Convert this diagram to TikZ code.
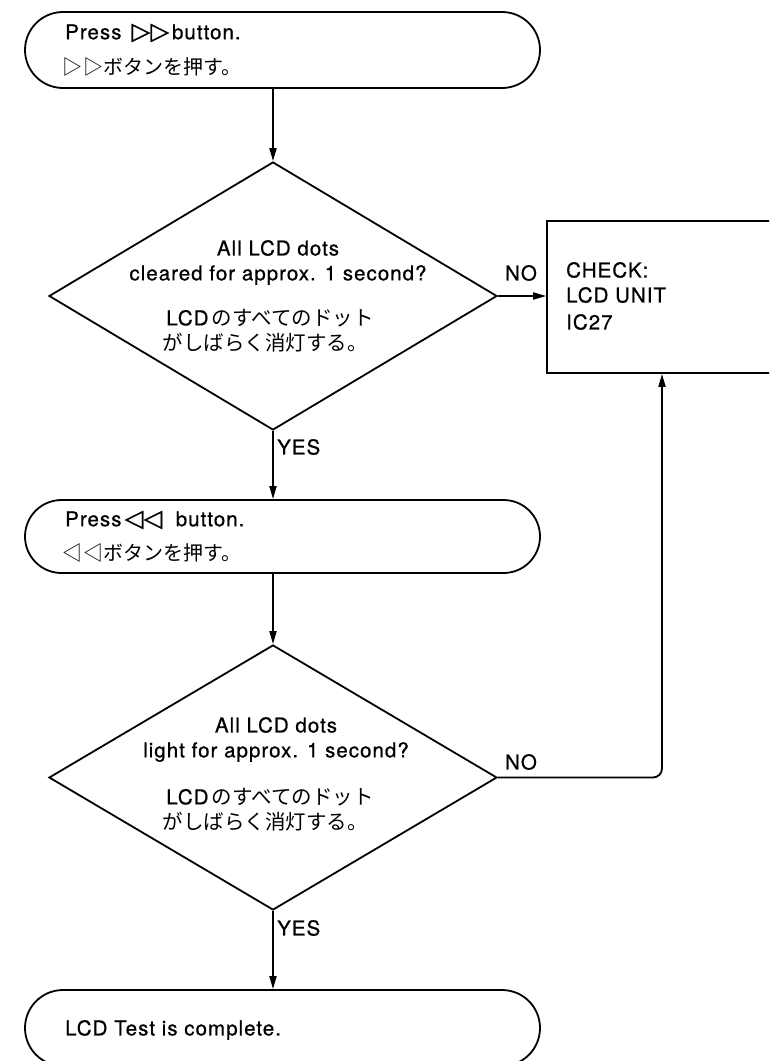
\documentclass[tikz,border=0pt]{standalone}
\usepackage{fontspec}
\setmainfont{TeX Gyre Heros}[LetterSpace=5, FakeBold=0.7]
\newfontfamily\jpfont{Noto Sans CJK JP}
\newfontfamily\symfont{DejaVu Sans}[FakeBold=1.2]
\usetikzlibrary{shapes.geometric,shapes.misc,arrows.meta}
\newcommand{\rtri}{{\symfont\fontsize{24}{24}\selectfont ▷}}
\newcommand{\ltri}{{\symfont\fontsize{24}{24}\selectfont ◁}}
\tikzset{
  every node/.style={font=\fontsize{20.5}{24}\selectfont},
  term/.style={draw, line width=1.8pt, rounded rectangle, rounded rectangle arc length=180, inner sep=0pt},
  decide/.style={draw, line width=1.8pt, diamond, inner sep=0pt},
  checkbox/.style={draw, line width=1.8pt, rectangle, inner sep=0pt},
  txt/.style={inner sep=0pt, anchor=west},
  ctxt/.style={inner sep=0pt},
  jp/.style={inner sep=0pt, font=\jpfont\fontsize{20.5}{24}\selectfont},
  arr/.style={line width=1.8pt, -{Triangle[length=13pt,width=7pt]}},
}
\begin{document}
\begin{tikzpicture}[x=1pt,y=-1pt]
\useasboundingbox (0,0) rectangle (769,1061);
\clip (0,0) rectangle (769,1061);
% shapes
\node[term, minimum width=515pt, minimum height=76pt] (t1) at (282.5,50) {};
\node[decide, minimum width=448pt, minimum height=268pt] (d1) at (273,296) {};
\node[checkbox, minimum width=260pt, minimum height=152pt] (chk) at (677,297) {};
\node[term, minimum width=515pt, minimum height=73pt] (t2) at (282.5,536.5) {};
\node[decide, minimum width=448pt, minimum height=265pt] (d2) at (273,777.5) {};
\node[term, minimum width=515pt, minimum height=76pt] (t3) at (282.5,1028) {};
% texts
\node[txt] (t1a) at (65,33) {Press \,\rtri\kern0.5pt\rtri\kern3pt button.};
\node[txt, font=\jpfont\fontsize{20}{24}\selectfont] (t1b) at (62,67) {▷\kern1pt▷ボタンを押す。};
\node[ctxt] (d1a) at (278,248) {All LCD dots};
\node[ctxt] (d1b) at (278,275) {cleared for approx. 1 second?};
\node[jp] (d1c) at (270,318) {{\fontsize{20.5}{24}\rmfamily LCD}\,のすべてのドット};
\node[jp] (d1d) at (265,343) {がしばらく消灯する。};
\node[txt] (c1) at (566,270) {CHECK:};
\node[txt] (c2) at (566,295) {LCD UNIT};
\node[txt] (c3) at (566,322) {IC27};
\node[txt] (t2a) at (65,520) {Press\,\ltri\kern0.5pt\ltri\ \ button.};
\node[txt, font=\jpfont\fontsize{20}{24}\selectfont] (t2b) at (62,553) {◁\kern1pt◁ボタンを押す。};
\node[ctxt] (d2a) at (276,725) {All LCD dots};
\node[ctxt] (d2b) at (276,752) {light for approx. 1 second?};
\node[jp] (d2c) at (270,797) {{\fontsize{20.5}{24}\rmfamily LCD}\,のすべてのドット};
\node[jp] (d2d) at (265,822) {がしばらく消灯する。};
\node[txt] (t3a) at (65,1030) {LCD Test is complete.};
% labels
\node[ctxt] (no1) at (521,273) {NO};
\node[ctxt] (no2) at (521,762) {NO};
\node[txt] (yes1) at (277,447) {YES};
\node[txt] (yes2) at (277,928) {YES};
% connectors
\draw[arr] (t1.south -| d1.north) -- (d1.north);
\draw[arr] (d1.east) -- (chk.west |- d1.east);
\draw[arr] (d1.south) -- (t2.north -| d1.south);
\draw[arr] (t2.south -| d2.north) -- (d2.north);
\draw[arr] (d2.south) -- (t3.north -| d2.south);
\coordinate (bend) at (662,777.5);
\draw[arr, rounded corners=9pt] (d2.east) -- (bend) -- (bend |- chk.south);
\end{tikzpicture}
\end{document}
